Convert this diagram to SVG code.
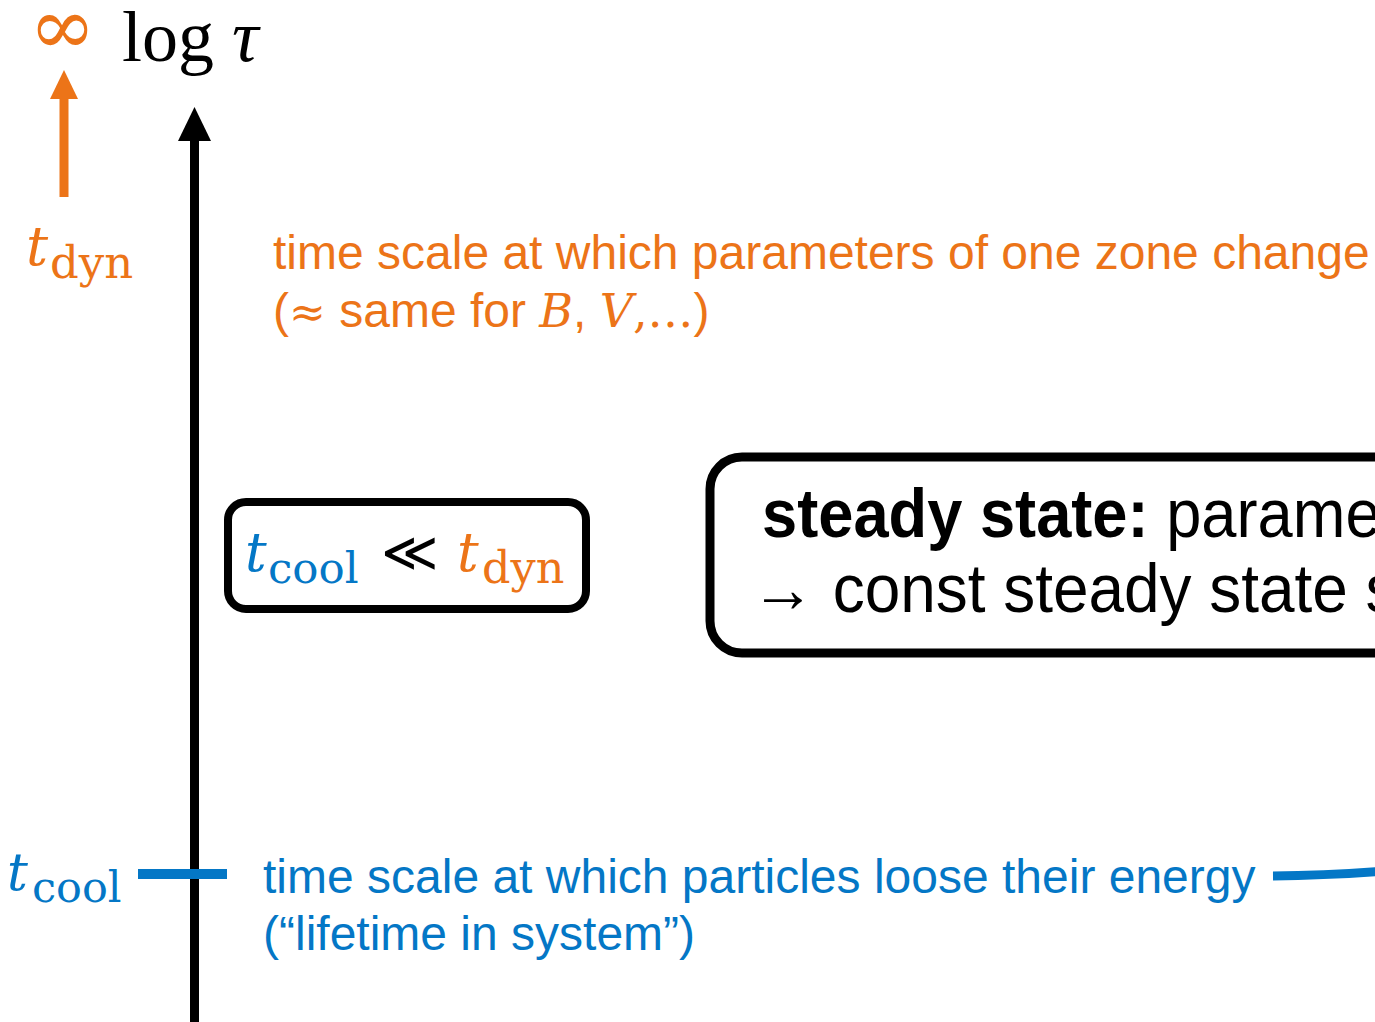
<svg xmlns="http://www.w3.org/2000/svg" width="1375" height="1022" viewBox="0 0 1375 1022">
<style>
.sans{font-family:"Liberation Sans",Arial,sans-serif;font-size:48px}
.math{font-family:"DejaVu Serif","Liberation Serif",serif}
.it{font-style:italic}
.or{fill:#EC7418}
.bl{fill:#0477C6}
.bk{fill:#000}
.box{fill:#fff;stroke:#000}
.big{font-family:"Liberation Sans",Arial,sans-serif;font-size:68px}
</style>
<rect width="1375" height="1022" fill="#fff"/>
<g id="connectors">
  <line x1="194.5" y1="1030" x2="194.5" y2="138" stroke="#000" stroke-width="9"/>
  <polygon points="194.5,107 178,141 211,141" fill="#000"/>
  <line x1="64" y1="197" x2="64" y2="96" stroke="#EC7418" stroke-width="9"/>
  <polygon points="64,70 50,99 78,99" fill="#EC7418"/>
  <line x1="138" y1="874" x2="227" y2="874" stroke="#0477C6" stroke-width="10"/>
  <path d="M1273,876 Q1325,875.5 1380,871.5" fill="none" stroke="#0477C6" stroke-width="9"/>
</g>
<g id="axis-label">
  <text x="29" y="54" class="math or" font-size="80">∞</text>
  <text x="122" y="61" font-family="Liberation Serif,serif" font-size="72">log <tspan font-style="italic" font-size="74">τ</tspan></text>
</g>
<g id="tdyn-label">
  <text x="26" y="265" class="math it or" font-size="55">t</text>
  <text x="50" y="278" class="math or" font-size="45">dyn</text>
</g>
<g id="tdyn-desc">
  <text x="273" y="269" class="sans or">time scale at which parameters of one zone change</text>
  <text x="273" y="327" class="sans or">(<tspan class="math" font-size="44">≈</tspan> same for <tspan class="math it" font-size="46">B</tspan>, <tspan class="math it" font-size="46">V</tspan><tspan class="math" font-size="46">,…</tspan>)</text>
</g>
<g id="ratio-box">
  <rect x="228" y="502" width="358" height="107" rx="18" class="box" stroke-width="8"/>
  <text x="245" y="571" class="math it bl" font-size="54">t</text>
  <text x="268" y="583" class="math bl" font-size="43.5">cool</text>
  <text x="381" y="571" class="math bk" font-size="55">≪</text>
  <text x="457" y="571" class="math it or" font-size="54">t</text>
  <text x="482" y="583" class="math or" font-size="44.5">dyn</text>
</g>
<g id="steady-box">
  <rect x="710" y="457" width="820" height="196" rx="32" class="box" stroke-width="9"/>
  <text transform="translate(762,537) scale(0.93,1)" class="big"><tspan font-weight="bold">steady state:</tspan> parame</text>
  <text transform="translate(751,612) scale(0.94,1)" class="big">→ const steady state s</text>
</g>
<g id="tcool-label">
  <text x="7" y="890" class="math it bl" font-size="52">t</text>
  <text x="32" y="902" class="math bl" font-size="43">cool</text>
</g>
<g id="tcool-desc">
  <text x="263" y="893" class="sans bl">time scale at which particles loose their energy</text>
  <text x="263" y="950" class="sans bl">(“lifetime in system”)</text>
</g>
</svg>
